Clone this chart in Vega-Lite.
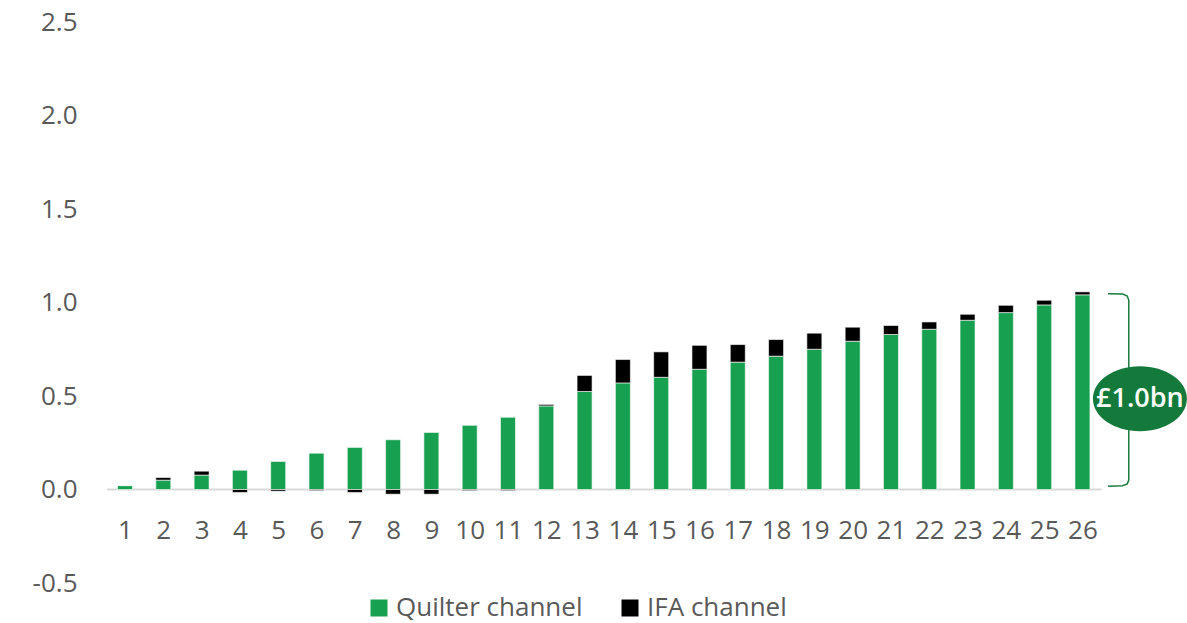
{
  "$schema": "https://vega.github.io/schema/vega-lite/v6.json",
  "width": 1080,
  "height": 561,
  "autosize": {"type": "none"},
  "padding": {"left": 107, "top": 22, "right": 0, "bottom": 40},
  "background": "#ffffff",
  "config": {
    "view": {"stroke": null},
    "font": "Open Sans",
    "axis": {"labelFont": "Open Sans", "labelColor": "#595959", "labelFontSize": 26}
  },
  "datasets": {
    "flows": [
      {"period": 1, "channel": "Quilter channel", "value": 0.021},
      {"period": 2, "channel": "Quilter channel", "value": 0.050},
      {"period": 3, "channel": "Quilter channel", "value": 0.077},
      {"period": 4, "channel": "Quilter channel", "value": 0.103},
      {"period": 5, "channel": "Quilter channel", "value": 0.150},
      {"period": 6, "channel": "Quilter channel", "value": 0.194},
      {"period": 7, "channel": "Quilter channel", "value": 0.225},
      {"period": 8, "channel": "Quilter channel", "value": 0.266},
      {"period": 9, "channel": "Quilter channel", "value": 0.305},
      {"period": 10, "channel": "Quilter channel", "value": 0.343},
      {"period": 11, "channel": "Quilter channel", "value": 0.386},
      {"period": 12, "channel": "Quilter channel", "value": 0.447},
      {"period": 13, "channel": "Quilter channel", "value": 0.524},
      {"period": 14, "channel": "Quilter channel", "value": 0.570},
      {"period": 15, "channel": "Quilter channel", "value": 0.600},
      {"period": 16, "channel": "Quilter channel", "value": 0.643},
      {"period": 17, "channel": "Quilter channel", "value": 0.681},
      {"period": 18, "channel": "Quilter channel", "value": 0.713},
      {"period": 19, "channel": "Quilter channel", "value": 0.750},
      {"period": 20, "channel": "Quilter channel", "value": 0.793},
      {"period": 21, "channel": "Quilter channel", "value": 0.829},
      {"period": 22, "channel": "Quilter channel", "value": 0.857},
      {"period": 23, "channel": "Quilter channel", "value": 0.905},
      {"period": 24, "channel": "Quilter channel", "value": 0.946},
      {"period": 25, "channel": "Quilter channel", "value": 0.987},
      {"period": 26, "channel": "Quilter channel", "value": 1.041},
      {"period": 1, "channel": "IFA channel", "value": 0.0},
      {"period": 2, "channel": "IFA channel", "value": 0.014},
      {"period": 3, "channel": "IFA channel", "value": 0.021},
      {"period": 4, "channel": "IFA channel", "value": -0.016},
      {"period": 5, "channel": "IFA channel", "value": -0.009},
      {"period": 6, "channel": "IFA channel", "value": -0.006},
      {"period": 7, "channel": "IFA channel", "value": -0.016},
      {"period": 8, "channel": "IFA channel", "value": -0.025},
      {"period": 9, "channel": "IFA channel", "value": -0.025},
      {"period": 10, "channel": "IFA channel", "value": -0.006},
      {"period": 11, "channel": "IFA channel", "value": -0.006},
      {"period": 12, "channel": "IFA channel", "value": 0.008},
      {"period": 13, "channel": "IFA channel", "value": 0.086},
      {"period": 14, "channel": "IFA channel", "value": 0.125},
      {"period": 15, "channel": "IFA channel", "value": 0.136},
      {"period": 16, "channel": "IFA channel", "value": 0.128},
      {"period": 17, "channel": "IFA channel", "value": 0.094},
      {"period": 18, "channel": "IFA channel", "value": 0.089},
      {"period": 19, "channel": "IFA channel", "value": 0.086},
      {"period": 20, "channel": "IFA channel", "value": 0.075},
      {"period": 21, "channel": "IFA channel", "value": 0.048},
      {"period": 22, "channel": "IFA channel", "value": 0.039},
      {"period": 23, "channel": "IFA channel", "value": 0.032},
      {"period": 24, "channel": "IFA channel", "value": 0.039},
      {"period": 25, "channel": "IFA channel", "value": 0.025},
      {"period": 26, "channel": "IFA channel", "value": 0.016}
    ],
    "baseline": [
      {"from": 0.53, "to": 26.5, "level": 0}
    ],
    "bracket": [
      {"seq": 1, "px": 26.67, "py": 1.047},
      {"seq": 2, "px": 27.05, "py": 1.045},
      {"seq": 3, "px": 27.17, "py": 1.035},
      {"seq": 4, "px": 27.21, "py": 1.012},
      {"seq": 5, "px": 27.21, "py": 0.05},
      {"seq": 6, "px": 27.17, "py": 0.03},
      {"seq": 7, "px": 27.05, "py": 0.02},
      {"seq": 8, "px": 26.67, "py": 0.018}
    ],
    "total": [
      {"px": 27.5, "py": 0.485, "label": "£1.0bn"}
    ]
  },
  "encoding": {
    "x": {
      "type": "quantitative",
      "scale": {"domain": [0.53, 28.73], "nice": false, "zero": false, "padding": 0},
      "axis": {
        "orient": "bottom",
        "offset": -66,
        "values": [1, 2, 3, 4, 5, 6, 7, 8, 9, 10, 11, 12, 13, 14, 15, 16, 17, 18, 19, 20, 21, 22, 23, 24, 25, 26],
        "format": "d",
        "title": null,
        "domain": false,
        "ticks": false,
        "tickSize": 0,
        "grid": false,
        "labelPadding": 0,
        "labelBaseline": "top",
        "labelOverlap": false,
        "labelFlush": false
      }
    },
    "y": {
      "type": "quantitative",
      "scale": {"domain": [-0.5, 2.5], "nice": false, "padding": 0},
      "axis": {
        "values": [-0.5, 0, 0.5, 1, 1.5, 2, 2.5],
        "labelExpr": "replace(format(datum.value, '.1f'), '\u2212', '-')",
        "title": null,
        "domain": false,
        "ticks": false,
        "tickSize": 0,
        "grid": false,
        "labelPadding": 30,
        "labelFlush": false,
        "labelOverlap": false
      }
    }
  },
  "layer": [
    {
      "data": {"name": "baseline"},
      "mark": {"type": "rule", "color": "#d9d9d9", "strokeWidth": 2},
      "encoding": {
        "x": {"field": "from"},
        "x2": {"field": "to"},
        "y": {"field": "level"}
      }
    },
    {
      "data": {"name": "flows"},
      "mark": {"type": "bar", "orient": "vertical", "size": 15, "stroke": "#ffffff", "strokeWidth": 0.6},
      "encoding": {
        "x": {"field": "period"},
        "y": {"field": "value", "stack": "zero"},
        "color": {
          "field": "channel",
          "type": "nominal",
          "scale": {"domain": ["Quilter channel", "IFA channel"], "range": ["#17a04f", "#000000"]},
          "legend": {
            "orient": "none",
            "legendX": 259,
            "legendY": 573,
            "direction": "horizontal",
            "title": null,
            "symbolType": "square",
            "symbolSize": 289,
            "symbolStrokeWidth": 0,
            "labelFontSize": 26,
            "labelColor": "#595959",
            "labelFont": "Open Sans",
            "labelLimit": 400,
            "labelOffset": 4,
            "columnPadding": 34
          }
        },
        "order": {"field": "channel", "sort": "descending"}
      }
    },
    {
      "data": {"name": "bracket"},
      "mark": {"type": "line", "color": "#1b7a3f", "strokeWidth": 1.5},
      "encoding": {
        "x": {"field": "px"},
        "y": {"field": "py"},
        "order": {"field": "seq"}
      }
    },
    {
      "data": {"name": "total"},
      "mark": {
        "type": "point",
        "shape": "M-1,0A1,0.69,0,1,1,1,0A1,0.69,0,1,1,-1,0Z",
        "size": 8836,
        "filled": true,
        "color": "#147a3c",
        "opacity": 1
      },
      "encoding": {
        "x": {"field": "px"},
        "y": {"field": "py"}
      }
    },
    {
      "data": {"name": "total"},
      "mark": {"type": "text", "color": "#ffffff", "font": "Open Sans", "fontWeight": 600, "fontSize": 27, "align": "center", "baseline": "middle"},
      "encoding": {
        "x": {"field": "px"},
        "y": {"field": "py"},
        "text": {"field": "label"}
      }
    }
  ]
}
